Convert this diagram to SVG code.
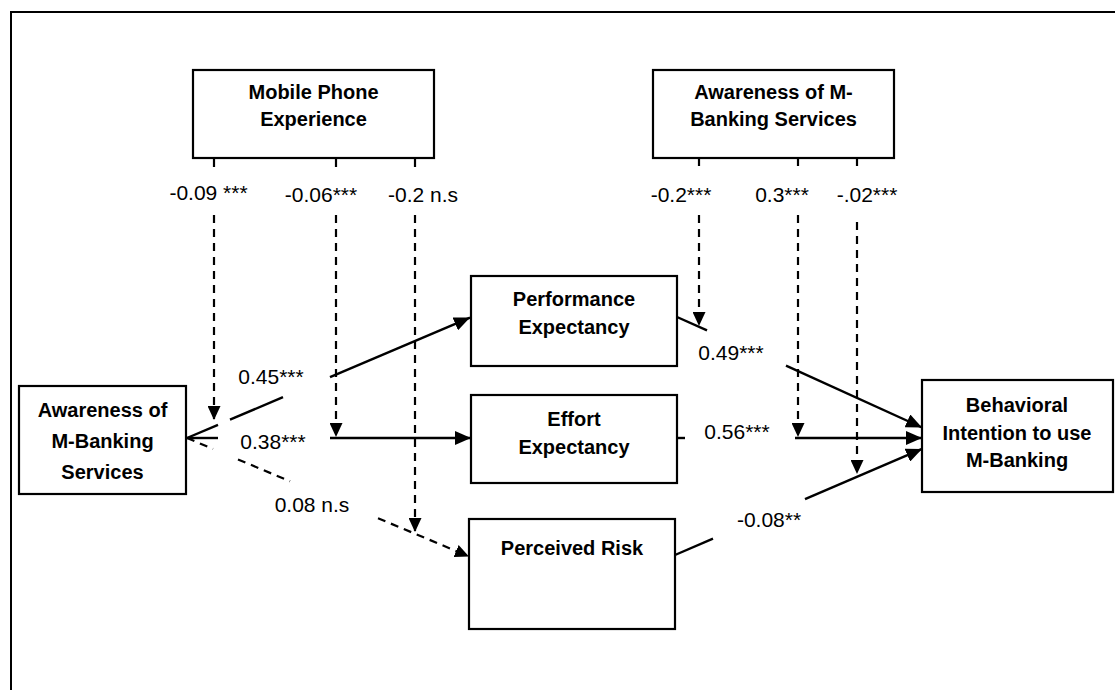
<svg xmlns="http://www.w3.org/2000/svg" width="1115" height="690" viewBox="0 0 1115 690">
<style>
.node rect{fill:#fff;stroke:#000;stroke-width:2.2}
.node text{font-family:"Liberation Sans",Arial,sans-serif;font-weight:bold;font-size:20px;text-anchor:middle;fill:#000}
.lbl{font-family:"Liberation Sans",Arial,sans-serif;font-size:21px;text-anchor:middle;fill:#000}
.s{stroke:#000;stroke-width:2.4;fill:none}
.d{stroke:#000;stroke-width:2.2;fill:none;stroke-dasharray:8 6}
</style>
<defs>
<marker id="ah" markerWidth="16" markerHeight="14" refX="16" refY="7" orient="auto" markerUnits="userSpaceOnUse">
<path d="M0,0 L16,7 L0,14 Z" fill="#000"/>
</marker>
<marker id="ad" markerWidth="14" markerHeight="13" refX="14" refY="6.5" orient="auto" markerUnits="userSpaceOnUse">
<path d="M0,0 L14,6.5 L0,13 Z" fill="#000"/>
</marker>
</defs>
<rect width="1115" height="690" fill="#fff"/>
<path d="M11,690 L11,12 L1115,12" fill="none" stroke="#000" stroke-width="2"/>

<g id="mobile-phone-experience" class="node">
<rect x="193" y="70" width="241" height="88"/>
<text x="313.5" y="99">Mobile Phone</text>
<text x="313.5" y="126">Experience</text>
</g>
<g id="awareness-moderator" class="node">
<rect x="653" y="70" width="241" height="88"/>
<text x="773.5" y="99">Awareness of M-</text>
<text x="773.5" y="126">Banking Services</text>
</g>
<g id="awareness" class="node">
<rect x="19" y="386" width="167" height="108"/>
<text x="102.5" y="417">Awareness of</text>
<text x="102.5" y="448">M-Banking</text>
<text x="102.5" y="479">Services</text>
</g>
<g id="performance-expectancy" class="node">
<rect x="471" y="276" width="206" height="90"/>
<text x="574" y="306">Performance</text>
<text x="574" y="334">Expectancy</text>
</g>
<g id="effort-expectancy" class="node">
<rect x="471" y="395" width="206" height="88"/>
<text x="574" y="426">Effort</text>
<text x="574" y="454">Expectancy</text>
</g>
<g id="perceived-risk" class="node">
<rect x="469" y="519" width="206" height="110"/>
<text x="572" y="555">Perceived Risk</text>
</g>
<g id="behavioral-intention" class="node">
<rect x="922" y="380" width="191" height="112"/>
<text x="1017" y="412">Behavioral</text>
<text x="1017" y="440">Intention to use</text>
<text x="1017" y="467">M-Banking</text>
</g>

<g id="connectors">
<line class="s" x1="187" y1="438" x2="218" y2="424.8"/>
<line class="s" x1="230" y1="419.7" x2="283" y2="397.2"/>
<line class="s" x1="330" y1="377.2" x2="470" y2="317.6" marker-end="url(#ah)"/>
<line class="s" x1="187" y1="438" x2="218" y2="438"/>
<line class="s" x1="330" y1="438" x2="471" y2="438" marker-end="url(#ah)"/>
<line class="d" x1="187" y1="438" x2="213" y2="448.9"/>
<line class="d" x1="238" y1="459.4" x2="290" y2="481.3"/>
<line class="d" x1="378" y1="518.2" x2="469" y2="556.4" marker-end="url(#ad)"/>
<line class="s" x1="677" y1="317" x2="707" y2="330.4"/>
<line class="s" x1="786" y1="365.7" x2="922" y2="427.5" marker-end="url(#ah)"/>
<line class="s" x1="677" y1="438" x2="685" y2="438"/>
<line class="s" x1="795" y1="438" x2="922" y2="438" marker-end="url(#ah)"/>
<line class="s" x1="675" y1="555" x2="713" y2="538.7"/>
<line class="s" x1="805" y1="499.2" x2="922" y2="448.9" marker-end="url(#ah)"/>
<line class="d" x1="214" y1="159" x2="214" y2="168"/>
<line class="d" x1="214" y1="215" x2="214" y2="420" marker-end="url(#ad)"/>
<line class="d" x1="336" y1="159" x2="336" y2="168"/>
<line class="d" x1="336" y1="215" x2="336" y2="437" marker-end="url(#ad)"/>
<line class="d" x1="415" y1="159" x2="415" y2="168"/>
<line class="d" x1="415" y1="215" x2="415" y2="532" marker-end="url(#ad)"/>
<line class="d" x1="699" y1="158" x2="699" y2="168"/>
<line class="d" x1="699" y1="215" x2="699" y2="326" marker-end="url(#ad)"/>
<line class="d" x1="798" y1="158" x2="798" y2="168"/>
<line class="d" x1="798" y1="215" x2="798" y2="437" marker-end="url(#ad)"/>
<line class="d" x1="857" y1="158" x2="857" y2="168"/>
<line class="d" x1="857" y1="222" x2="857" y2="474" marker-end="url(#ad)"/>
</g>

<g id="labels">
<text class="lbl" x="208.5" y="200">-0.09 ***</text>
<text class="lbl" x="321" y="202">-0.06***</text>
<text class="lbl" x="423" y="202">-0.2 n.s</text>
<text class="lbl" x="681" y="202">-0.2***</text>
<text class="lbl" x="782" y="202">0.3***</text>
<text class="lbl" x="867" y="202">-.02***</text>
<text class="lbl" x="271" y="384">0.45***</text>
<text class="lbl" x="273" y="449">0.38***</text>
<text class="lbl" x="312" y="512">0.08 n.s</text>
<text class="lbl" x="731" y="360">0.49***</text>
<text class="lbl" x="737" y="439">0.56***</text>
<text class="lbl" x="769" y="527">-0.08**</text>
</g>
</svg>
